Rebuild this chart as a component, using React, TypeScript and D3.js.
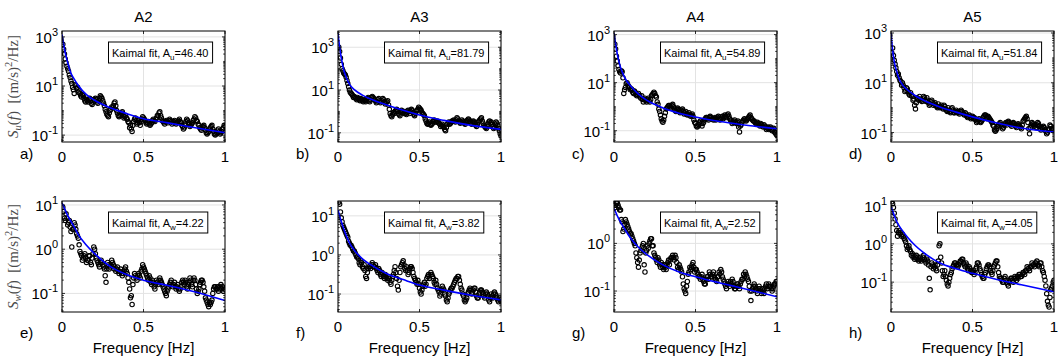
import React from "react";
import * as d3 from "d3";

// Frequency bins [Hz]
const FREQ_HZ = [
  0.005, 0.01, 0.015, 0.02, 0.025, 0.03, 0.035, 0.04, 0.045, 0.05,
  0.055, 0.06, 0.065, 0.07, 0.075, 0.08, 0.085, 0.09, 0.095, 0.1,
  0.105, 0.11, 0.115, 0.12, 0.125, 0.13, 0.135, 0.14, 0.145, 0.15,
  0.155, 0.16, 0.165, 0.17, 0.175, 0.18, 0.185, 0.19, 0.195, 0.2,
  0.205, 0.21, 0.215, 0.22, 0.225, 0.23, 0.235, 0.24, 0.245, 0.25,
  0.255, 0.26, 0.265, 0.27, 0.275, 0.28, 0.285, 0.29, 0.295, 0.3,
  0.305, 0.31, 0.315, 0.32, 0.325, 0.33, 0.335, 0.34, 0.345, 0.35,
  0.355, 0.36, 0.365, 0.37, 0.375, 0.38, 0.385, 0.39, 0.395, 0.4,
  0.405, 0.41, 0.415, 0.42, 0.425, 0.43, 0.435, 0.44, 0.445, 0.45,
  0.455, 0.46, 0.465, 0.47, 0.475, 0.48, 0.485, 0.49, 0.495, 0.5,
  0.505, 0.51, 0.515, 0.52, 0.525, 0.53, 0.535, 0.54, 0.545, 0.55,
  0.555, 0.56, 0.565, 0.57, 0.575, 0.58, 0.585, 0.59, 0.595, 0.6,
  0.605, 0.61, 0.615, 0.62, 0.625, 0.63, 0.635, 0.64, 0.645, 0.65,
  0.655, 0.66, 0.665, 0.67, 0.675, 0.68, 0.685, 0.69, 0.695, 0.7,
  0.705, 0.71, 0.715, 0.72, 0.725, 0.73, 0.735, 0.74, 0.745, 0.75,
  0.755, 0.76, 0.765, 0.77, 0.775, 0.78, 0.785, 0.79, 0.795, 0.8,
  0.805, 0.81, 0.815, 0.82, 0.825, 0.83, 0.835, 0.84, 0.845, 0.85,
  0.855, 0.86, 0.865, 0.87, 0.875, 0.88, 0.885, 0.89, 0.895, 0.9,
  0.905, 0.91, 0.915, 0.92, 0.925, 0.93, 0.935, 0.94, 0.945, 0.95,
  0.955, 0.96, 0.965, 0.97, 0.975, 0.98, 0.985, 0.99, 0.995, 1.0,
];

const TITLES = ["A2", "A3", "A4", "A5"];
const LETTERS_U = ["a)", "b)", "c)", "d)"];
const LETTERS_W = ["e)", "f)", "g)", "h)"];
const A_U = ["46.40", "81.79", "54.89", "51.84"];
const A_W = ["4.22", "3.82", "2.52", "4.05"];

// log10 of measured spectra S_u(f) [(m/s)^2/Hz]
const SU_A2 = [
  2.7, 2.5, 2.3, 2.1, 1.95, 1.8, 1.7, 1.6, 1.45, 1.35,
  1.2, 1.1, 0.95, 0.85, 0.7, 1.05, 1.0, 0.9, 0.95, 0.75,
  0.8, 0.7, 0.6, 0.55, 0.65, 0.6, 0.5, 0.4, 0.35, 0.45,
  0.4, 0.35, 0.45, 0.5, 0.4, 0.3, 0.25, 0.35, 0.45, 0.4,
  0.5, 0.45, 0.35, 0.3, 0.4, 0.5, 0.6, 0.55, 0.5, 0.4,
  0.3, 0.2, 0.05, -0.05, -0.15, -0.2, -0.25, -0.1, 0.0, 0.05,
  0.15, 0.1, 0.2, 0.3, 0.35, 0.2, 0.0, -0.1, -0.2, -0.25,
  -0.2, -0.15, -0.1, -0.05, -0.2, -0.3, -0.25, -0.2, -0.3, -0.35,
  -0.45, -0.5, -0.7, -0.6, -0.75, -0.85, -0.6, -0.45, -0.35, -0.3,
  -0.4, -0.55, -0.5, -0.4, -0.5, -0.6, -0.45, -0.35, -0.25, -0.3,
  -0.35, -0.4, -0.5, -0.55, -0.5, -0.45, -0.55, -0.6, -0.55, -0.5,
  -0.4, -0.35, -0.4, -0.45, -0.35, -0.3, -0.2, -0.2, -0.1, -0.05,
  -0.2, -0.3, -0.4, -0.45, -0.5, -0.55, -0.45, -0.4, -0.45, -0.5,
  -0.4, -0.35, -0.4, -0.45, -0.55, -0.5, -0.45, -0.4, -0.5, -0.55,
  -0.5, -0.45, -0.4, -0.35, -0.45, -0.5, -0.6, -0.65, -0.75, -0.7,
  -0.55, -0.45, -0.35, -0.4, -0.5, -0.55, -0.65, -0.6, -0.55, -0.5,
  -0.4, -0.35, -0.25, -0.3, -0.4, -0.45, -0.55, -0.6, -0.7, -0.75,
  -0.8, -0.7, -0.65, -0.6, -0.7, -0.8, -0.9, -0.95, -0.9, -0.85,
  -0.75, -0.7, -0.65, -0.6, -0.75, -0.85, -0.95, -1.0, -0.95, -0.9,
  -0.8, -0.75, -0.85, -0.95, -0.9, -0.85, -0.75, -0.7, -0.6, -0.65,
];
const SU_A3 = [
  3.0, 2.8, 2.5, 2.2, 2.0, 1.9, 1.8, 1.75, 1.7, 1.6,
  1.45, 1.3, 1.15, 1.0, 0.9, 0.85, 0.8, 0.75, 0.65, 0.7,
  0.65, 0.6, 0.55, 0.65, 0.6, 0.55, 0.5, 0.6, 0.55, 0.5,
  0.45, 0.55, 0.5, 0.45, 0.55, 0.6, 0.65, 0.5, 0.45, 0.55,
  0.65, 0.7, 0.65, 0.6, 0.55, 0.5, 0.4, 0.45, 0.55, 0.6,
  0.5, 0.4, 0.45, 0.5, 0.6, 0.55, 0.45, 0.35, 0.4, 0.45,
  0.5, 0.3, 0.1, -0.1, -0.2, -0.25, -0.15, -0.05, -0.1, 0.0,
  0.05, 0.1, 0.0, -0.1, -0.15, -0.2, -0.05, 0.05, 0.0, -0.05,
  -0.1, 0.0, -0.1, -0.15, -0.05, 0.05, 0.0, -0.1, 0.0, 0.1,
  0.05, -0.05, -0.15, -0.2, -0.1, 0.0, 0.05, 0.1, 0.2, 0.15,
  0.1, 0.05, -0.05, -0.1, -0.15, -0.2, -0.35, -0.45, -0.55, -0.6,
  -0.55, -0.5, -0.6, -0.65, -0.6, -0.55, -0.45, -0.4, -0.45, -0.5,
  -0.5, -0.45, -0.5, -0.55, -0.6, -0.7, -0.65, -0.6, -0.7, -0.75,
  -0.85, -0.9, -0.75, -0.6, -0.55, -0.5, -0.6, -0.55, -0.5, -0.45,
  -0.45, -0.4, -0.45, -0.5, -0.4, -0.3, -0.35, -0.45, -0.5, -0.55,
  -0.5, -0.4, -0.45, -0.5, -0.55, -0.6, -0.5, -0.45, -0.4, -0.35,
  -0.4, -0.5, -0.55, -0.6, -0.5, -0.45, -0.5, -0.55, -0.65, -0.7,
  -0.6, -0.5, -0.45, -0.4, -0.35, -0.3, -0.45, -0.55, -0.65, -0.7,
  -0.75, -0.8, -0.7, -0.6, -0.5, -0.45, -0.55, -0.5, -0.6, -0.7,
  -0.8, -0.75, -0.6, -0.5, -0.55, -0.65, -0.8, -0.9, -1.05, -1.15,
];
const SU_A4 = [
  2.6, 2.4, 2.1, 1.9, 1.7, 1.55, 1.45, 1.4, 1.5, 1.45,
  1.2, 0.55, 0.7, 0.8, 0.95, 1.0, 0.9, 0.85, 0.8, 0.7,
  0.75, 0.7, 0.6, 0.55, 0.65, 0.6, 0.5, 0.45, 0.5, 0.55,
  0.45, 0.4, 0.35, 0.45, 0.3, 0.2, 0.3, 0.35, 0.25, 0.2,
  0.3, 0.35, 0.25, 0.2, 0.3, 0.45, 0.5, 0.55, 0.6, 0.55,
  0.45, 0.4, 0.2, 0.1, -0.1, -0.2, -0.35, -0.5, -0.6, -0.65,
  -0.55, -0.4, -0.25, -0.1, -0.05, 0.0, 0.05, 0.05, 0.0, -0.05,
  0.05, 0.1, 0.0, -0.1, -0.15, -0.2, -0.1, -0.05, -0.1, -0.15,
  -0.25, -0.2, -0.15, -0.1, -0.2, -0.3, -0.25, -0.2, -0.3, -0.35,
  -0.3, -0.25, -0.35, -0.4, -0.35, -0.3, -0.4, -0.55, -0.65, -0.7,
  -0.8, -0.85, -0.8, -0.75, -0.65, -0.6, -0.7, -0.8, -0.7, -0.65,
  -0.55, -0.5, -0.45, -0.45, -0.5, -0.55, -0.45, -0.4, -0.45, -0.5,
  -0.5, -0.55, -0.5, -0.45, -0.55, -0.5, -0.45, -0.4, -0.5, -0.55,
  -0.5, -0.45, -0.4, -0.5, -0.45, -0.35, -0.4, -0.45, -0.35, -0.3,
  -0.4, -0.5, -0.55, -0.6, -0.7, -0.65, -0.6, -0.55, -0.65, -0.7,
  -0.65, -0.6, -0.85, -1.05, -0.8, -0.75, -0.65, -0.6, -0.55, -0.5,
  -0.55, -0.6, -0.55, -0.5, -0.45, -0.4, -0.35, -0.45, -0.5, -0.55,
  -0.6, -0.6, -0.65, -0.7, -0.7, -0.65, -0.7, -0.75, -0.8, -0.7,
  -0.75, -0.8, -0.85, -0.75, -0.8, -0.85, -0.95, -0.9, -0.85, -0.95,
  -0.9, -0.85, -0.95, -1.0, -0.95, -0.9, -1.05, -1.1, -1.15, -1.2,
];
const SU_A5 = [
  2.2, 2.4, 2.1, 1.9, 1.75, 1.6, 1.45, 1.3, 1.35, 1.2,
  1.1, 1.05, 0.9, 1.0, 0.9, 0.8, 0.65, 0.7, 0.8, 0.75,
  0.65, 0.55, 0.5, 0.6, 0.5, 0.45, 0.3, 0.35, 0.1, -0.05,
  0.2, 0.4, 0.35, 0.3, 0.45, 0.35, 0.3, 0.25, 0.35, 0.45,
  0.4, 0.3, 0.25, 0.4, 0.3, 0.2, 0.1, 0.15, 0.25, 0.3,
  0.2, 0.1, 0.15, 0.2, 0.1, 0.05, 0.0, 0.15, 0.05, 0.0,
  0.05, 0.1, 0.0, -0.05, 0.1, 0.05, -0.05, -0.1, -0.15, 0.0,
  -0.1, -0.15, -0.2, -0.05, 0.0, -0.1, -0.2, -0.2, -0.15, -0.1,
  -0.2, -0.15, -0.2, -0.25, -0.15, -0.1, -0.15, -0.2, -0.25, -0.3,
  -0.2, -0.25, -0.35, -0.4, -0.35, -0.3, -0.4, -0.45, -0.4, -0.35,
  -0.45, -0.4, -0.45, -0.5, -0.6, -0.55, -0.5, -0.45, -0.55, -0.6,
  -0.55, -0.5, -0.4, -0.35, -0.3, -0.3, -0.4, -0.45, -0.35, -0.4,
  -0.45, -0.5, -0.55, -0.6, -0.7, -0.75, -0.9, -0.95, -0.9, -0.85,
  -0.75, -0.7, -0.65, -0.6, -0.7, -0.75, -0.85, -0.8, -0.7, -0.65,
  -0.6, -0.7, -0.6, -0.55, -0.6, -0.65, -0.7, -0.75, -0.65, -0.6,
  -0.65, -0.7, -0.75, -0.8, -0.7, -0.65, -0.7, -0.75, -0.8, -0.85,
  -0.7, -0.55, -0.5, -0.45, -0.4, -0.35, -0.45, -0.6, -0.85, -1.05,
  -0.8, -0.7, -0.6, -0.65, -0.7, -0.75, -0.7, -0.8, -0.7, -0.6,
  -0.65, -0.75, -0.85, -0.9, -0.8, -0.85, -0.75, -0.8, -0.9, -0.95,
  -1.05, -1.0, -0.9, -0.85, -0.7, -0.75, -0.85, -0.9, -0.85, -0.8,
];

// log10 of measured spectra S_w(f) [(m/s)^2/Hz]
const SW_A2 = [
  0.95, 0.85, 0.7, 0.65, 0.8, 0.7, 0.55, 0.6, 0.65, 0.5,
  0.4, 0.05, 0.45, 0.45, 0.6, 0.55, 0.45, 0.35, 0.3, 0.25,
  0.1, -0.05, -0.1, -0.15, -0.25, -0.2, -0.15, -0.1, -0.2, -0.3,
  -0.25, -0.25, -0.15, -0.15, -0.3, -0.35, -0.2, -0.1, 0.05, 0.0,
  -0.1, -0.2, -0.25, -0.3, -0.35, -0.4, -0.3, -0.25, -0.3, -0.35,
  -0.4, -0.45, -0.6, -0.75, -0.45, -0.3, -0.35, -0.45, -0.4, -0.35,
  -0.25, -0.3, -0.35, -0.45, -0.4, -0.5, -0.45, -0.4, -0.5, -0.55,
  -0.5, -0.45, -0.55, -0.6, -0.55, -0.5, -0.45, -0.4, -0.5, -0.55,
  -0.65, -0.75, -0.9, -1.1, -1.05, -1.25, -0.8, -0.65, -0.55, -0.6,
  -0.65, -0.7, -0.6, -0.55, -0.6, -0.65, -0.5, -0.45, -0.35, -0.4,
  -0.45, -0.5, -0.55, -0.6, -0.65, -0.7, -0.6, -0.65, -0.75, -0.8,
  -0.7, -0.75, -0.85, -0.9, -0.8, -0.7, -0.75, -0.8, -0.7, -0.65,
  -0.7, -0.75, -0.8, -0.85, -0.9, -0.95, -1.0, -1.05, -0.95, -0.9,
  -0.85, -0.8, -0.75, -0.7, -0.8, -0.85, -0.8, -0.75, -0.85, -0.9,
  -0.85, -0.8, -0.9, -0.95, -0.9, -0.85, -0.75, -0.7, -0.75, -0.8,
  -0.7, -0.75, -0.85, -0.9, -0.8, -0.75, -0.65, -0.7, -0.8, -0.85,
  -0.7, -0.65, -0.7, -0.8, -0.9, -1.0, -0.95, -0.9, -0.8, -0.75,
  -0.7, -0.7, -0.75, -0.85, -0.95, -1.1, -1.15, -1.2, -1.25, -1.3,
  -1.2, -1.25, -1.2, -1.15, -1.0, -0.9, -0.85, -0.85, -0.9, -0.9,
  -0.85, -0.95, -0.9, -0.85, -0.8, -0.9, -0.85, -0.95, -0.9, -0.9,
];
const SW_A3 = [
  1.35, 1.3, 1.1, 0.95, 0.85, 0.75, 0.7, 0.65, 0.6, 0.55,
  0.5, 0.45, 0.35, 0.3, 0.25, 0.25, 0.2, 0.15, 0.1, 0.1,
  0.05, 0.0, -0.05, -0.05, -0.1, -0.2, -0.25, -0.15, -0.2, -0.3,
  -0.35, -0.25, -0.4, -0.55, -0.6, -0.45, -0.35, -0.3, -0.3, -0.35,
  -0.25, -0.2, -0.25, -0.3, -0.3, -0.25, -0.35, -0.4, -0.45, -0.35,
  -0.4, -0.5, -0.55, -0.45, -0.5, -0.55, -0.6, -0.5, -0.55, -0.6,
  -0.65, -0.55, -0.6, -0.7, -0.75, -0.65, -0.55, -0.5, -0.4, -0.3,
  -0.45, -0.6, -0.8, -0.9, -0.65, -0.45, -0.3, -0.25, -0.2, -0.15,
  -0.25, -0.35, -0.4, -0.3, -0.4, -0.5, -0.45, -0.35, -0.3, -0.3,
  -0.35, -0.45, -0.55, -0.6, -0.65, -0.7, -0.75, -0.65, -0.75, -0.85,
  -0.95, -1.0, -0.9, -0.8, -0.75, -0.7, -0.8, -0.75, -0.6, -0.55,
  -0.5, -0.6, -0.5, -0.45, -0.5, -0.55, -0.6, -0.7, -0.75, -0.65,
  -0.75, -0.85, -0.9, -0.95, -1.05, -1.0, -0.9, -0.8, -0.85, -0.9,
  -1.0, -1.05, -1.15, -1.2, -1.1, -1.0, -0.95, -0.9, -0.85, -0.85,
  -0.8, -0.75, -0.7, -0.65, -0.6, -0.6, -0.55, -0.55, -0.65, -0.75,
  -0.85, -0.9, -1.0, -1.05, -1.15, -1.2, -1.15, -1.1, -1.0, -0.95,
  -0.9, -0.85, -0.9, -1.0, -0.95, -0.9, -0.85, -0.85, -0.95, -1.05,
  -1.1, -1.1, -1.0, -0.95, -0.9, -0.9, -0.95, -1.0, -1.05, -1.1,
  -1.0, -0.95, -1.0, -1.05, -1.15, -1.2, -1.1, -1.0, -1.05, -1.1,
  -1.0, -0.95, -1.0, -1.05, -1.1, -1.15, -1.2, -1.1, -1.15, -1.2,
];
const SW_A4 = [
  0.75, 0.8, 0.85, 0.85, 0.8, 0.75, 0.7, 0.7, 0.5, 0.45,
  0.25, 0.3, 0.4, 0.5, 0.45, 0.4, 0.35, 0.3, 0.25, 0.2,
  0.2, 0.15, 0.1, 0.05, 0.0, -0.05, -0.2, -0.3, -0.4, -0.5,
  -0.35, -0.2, -0.15, -0.1, -0.05, 0.0, -0.45, -0.6, -0.2, -0.15,
  -0.05, -0.1, 0.0, 0.05, 0.1, 0.1, -0.05, -0.05, -0.2, -0.25,
  -0.3, -0.35, -0.4, -0.3, -0.35, -0.45, -0.5, -0.4, -0.45, -0.5,
  -0.55, -0.45, -0.5, -0.55, -0.45, -0.4, -0.35, -0.45, -0.35, -0.3,
  -0.3, -0.25, -0.3, -0.35, -0.25, -0.3, -0.4, -0.5, -0.55, -0.45,
  -0.5, -0.55, -0.6, -0.7, -0.85, -0.95, -1.0, -1.05, -0.9, -0.8,
  -0.65, -0.6, -0.5, -0.55, -0.5, -0.45, -0.4, -0.5, -0.6, -0.55,
  -0.55, -0.6, -0.65, -0.7, -0.7, -0.75, -0.7, -0.65, -0.75, -0.8,
  -0.85, -0.85, -0.75, -0.7, -0.7, -0.75, -0.6, -0.65, -0.7, -0.7,
  -0.65, -0.6, -0.7, -0.75, -0.75, -0.8, -0.7, -0.7, -0.6, -0.65,
  -0.55, -0.6, -0.7, -0.75, -0.8, -0.85, -0.9, -0.95, -0.85, -0.8,
  -0.85, -0.9, -0.8, -0.85, -0.75, -0.8, -0.9, -0.95, -0.95, -0.9,
  -0.85, -0.85, -0.9, -0.95, -0.85, -0.8, -0.75, -0.75, -0.65, -0.7,
  -0.6, -0.65, -0.7, -0.75, -0.8, -0.9, -1.0, -1.2, -1.0, -0.95,
  -0.9, -0.85, -0.9, -0.95, -1.0, -1.05, -0.95, -0.9, -0.95, -1.0,
  -1.05, -0.95, -1.0, -1.05, -0.95, -0.9, -0.85, -0.95, -0.9, -0.85,
  -0.9, -0.9, -0.95, -1.0, -0.95, -0.9, -0.85, -0.85, -0.8, -0.8,
];
const SW_A5 = [
  1.1, 1.05, 0.95, 0.8, 0.65, 0.5, 0.35, 0.2, 0.3, 0.35,
  0.25, 0.3, 0.2, 0.25, 0.2, 0.15, 0.1, 0.05, -0.05, -0.15,
  -0.1, -0.05, -0.15, -0.2, -0.3, -0.25, -0.35, -0.3, -0.4, -0.35,
  -0.3, -0.4, -0.35, -0.45, -0.4, -0.35, -0.45, -0.4, -0.35, -0.3,
  -0.4, -0.45, -0.5, -0.4, -0.45, -0.55, -0.9, -1.2, -0.6, -0.5,
  -0.55, -0.65, -0.6, -0.55, -0.65, -0.7, -0.55, -0.45, -0.05, 0.0,
  -0.35, -0.5, -0.7, -0.85, -0.8, -0.7, -0.85, -0.95, -1.05, -1.1,
  -1.0, -0.9, -0.8, -0.75, -0.65, -0.6, -0.55, -0.5, -0.5, -0.55,
  -0.55, -0.6, -0.55, -0.5, -0.45, -0.45, -0.4, -0.4, -0.5, -0.55,
  -0.6, -0.5, -0.55, -0.65, -0.7, -0.6, -0.65, -0.7, -0.75, -0.75,
  -0.7, -0.8, -0.75, -0.65, -0.6, -0.5, -0.5, -0.55, -0.65, -0.7,
  -0.8, -0.85, -0.9, -0.9, -0.8, -0.75, -0.65, -0.6, -0.55, -0.55,
  -0.6, -0.7, -0.75, -0.8, -0.7, -0.6, -0.55, -0.5, -0.45, -0.45,
  -0.6, -0.75, -0.85, -0.9, -0.9, -0.95, -1.0, -1.0, -0.9, -0.85,
  -0.95, -1.0, -1.05, -1.1, -1.0, -0.95, -0.9, -0.9, -0.95, -1.0,
  -0.9, -0.85, -0.9, -0.95, -0.85, -0.9, -0.8, -0.8, -0.85, -0.85,
  -0.8, -0.75, -0.75, -0.8, -0.7, -0.7, -0.6, -0.65, -0.65, -0.7,
  -0.6, -0.6, -0.5, -0.55, -0.55, -0.6, -0.5, -0.5, -0.45, -0.55,
  -0.55, -0.6, -0.5, -0.5, -0.6, -0.7, -0.75, -0.85, -0.95, -1.1,
  -1.3, -1.5, -1.6, -1.65, -1.4, -1.2, -1.15, -1.1, -1.0, -0.95,
];

// Kaimal fit curves, log10 values read at these frequencies
const FIT_F = [0, 0.01, 0.02, 0.035, 0.05, 0.075, 0.1, 0.15, 0.2, 0.3, 0.4, 0.5, 0.65, 0.8, 1.0];
const FIT_U_A2 = [3.1, 2.7, 2.35, 1.95, 1.6, 1.28, 1.02, 0.65, 0.42, 0.1, -0.13, -0.33, -0.5, -0.68, -0.9];
const FIT_U_A3 = [3.66, 3.0, 2.5, 1.95, 1.6, 1.22, 1.02, 0.76, 0.58, 0.3, 0.05, -0.17, -0.42, -0.63, -0.84];
const FIT_U_A4 = [3.06, 2.6, 2.2, 1.75, 1.45, 1.1, 0.88, 0.52, 0.27, -0.05, -0.27, -0.43, -0.62, -0.76, -0.92];
const FIT_U_A5 = [3.0, 2.3, 1.85, 1.45, 1.15, 0.88, 0.72, 0.48, 0.3, 0.03, -0.18, -0.37, -0.62, -0.82, -0.98];
const FIT_W_A2 = [1.04, 0.97, 0.88, 0.76, 0.66, 0.5, 0.33, 0.09, -0.1, -0.4, -0.58, -0.7, -0.82, -0.95, -1.16];
const FIT_W_A3 = [1.15, 1.0, 0.86, 0.67, 0.5, 0.27, 0.12, -0.1, -0.25, -0.48, -0.63, -0.77, -0.9, -1.02, -1.15];
const FIT_W_A4 = [0.73, 0.66, 0.58, 0.48, 0.39, 0.25, 0.12, -0.08, -0.23, -0.45, -0.6, -0.7, -0.83, -0.95, -1.12];
const FIT_W_A5 = [0.97, 0.86, 0.74, 0.58, 0.47, 0.32, 0.18, -0.05, -0.23, -0.5, -0.65, -0.77, -0.93, -1.07, -1.25];

const X_TICKS = [0, 0.5, 1];
const X_TICK_LABELS = ["0", "0.5", "1"];
const Y_TICK_EXP_U = [-1, 1, 3];
const Y_TICK_EXP_W = [-1, 0, 1];

const SU = [SU_A2, SU_A3, SU_A4, SU_A5];
const SW = [SW_A2, SW_A3, SW_A4, SW_A5];
const FIT_U = [FIT_U_A2, FIT_U_A3, FIT_U_A4, FIT_U_A5];
const FIT_W = [FIT_W_A2, FIT_W_A3, FIT_W_A4, FIT_W_A5];

// layout
const W = 1063;
const H = 360;
const COL_LEFT = [62, 338, 614, 891];
const PW = 163;
const ROW_TOP = [31, 201];
const PH = 111;
const DOM_U: [number, number][] = [[-1.28, 3.24], [-1.43, 3.76], [-1.47, 3.15], [-1.38, 3.08]];
const DOM_W: [number, number][] = [[-1.42, 1.09], [-1.46, 1.38], [-1.44, 0.89], [-1.78, 1.12]];

const SANS = "'Liberation Sans', Arial, Helvetica, sans-serif";
const SERIF = "'Liberation Serif', 'Times New Roman', serif";

function measure(text: string, size: number) {
  if (typeof document === "undefined") return text.length * size * 0.5;
  const c = document.createElement("canvas").getContext("2d");
  if (!c) return text.length * size * 0.5;
  c.font = `${size}px 'Liberation Sans', Arial`;
  return c.measureText(text).width;
}

type PanelProps = {
  x0: number; y0: number; dom: [number, number]; vals: number[]; fit: number[];
  tickExps: number[]; title?: string; letter: string; comp: string; amp: string;
  ylabel: boolean; xlabel: boolean; id: string; bottomRow: boolean;
};

function Panel(p: PanelProps) {
  const { x0, y0, dom } = p;
  const x = d3.scaleLinear().domain([0, 1]).range([x0, x0 + PW]);
  const y = d3.scaleLog().domain([10 ** dom[0], 10 ** dom[1]]).range([y0 + PH, y0]);
  const line = d3
    .line<number>()
    .x((_, i) => x(FIT_F[i]))
    .y((v) => y(10 ** v))
    .curve(d3.curveMonotoneX);
  const ticks = p.tickExps.filter((e) => e >= dom[0] - 1e-6 && e <= dom[1] + 1e-6);
  const minor: number[] = [];
  for (let d = Math.floor(dom[0]); d <= Math.ceil(dom[1]); d++) {
    for (let k = 1; k <= 9; k++) {
      const v = k * 10 ** d;
      const e = Math.log10(v);
      if (e > dom[0] && e < dom[1] && !ticks.includes(Math.round(e * 1000) / 1000)) minor.push(v);
    }
  }
  const txt1 = "Kaimal fit, A";
  const txt2 = p.comp;
  const txt3 = "=" + p.amp;
  const tw = measure(txt1, 11) + measure(txt2, 8) + measure(txt3, 11);
  const bx = x0 + 46.5;
  const by = y0 + 11;
  const bw = tw + 7;
  const bh = 21;
  const yb = y0 + PH;
  return (
    <g>
      <defs>
        <clipPath id={p.id}>
          <rect x={x0} y={y0} width={PW} height={PH} />
        </clipPath>
      </defs>
      <rect x={x0} y={y0} width={PW} height={PH} fill="#fff" />
      <g stroke="#e3e3e3" strokeWidth={1}>
        {X_TICKS.map((t) => (
          <line key={"gx" + t} x1={x(t)} x2={x(t)} y1={y0} y2={yb} />
        ))}
        {ticks.map((e) => (
          <line key={"gy" + e} x1={x0} x2={x0 + PW} y1={y(10 ** e)} y2={y(10 ** e)} />
        ))}
      </g>
      <g clipPath={`url(#${p.id})`}>
        {p.vals.map((v, i) => (
          <circle key={i} cx={x(FREQ_HZ[i])} cy={y(10 ** v)} r={2.2} fill="none" stroke="#000" strokeWidth={1.1} />
        ))}
        <path d={line(p.fit) || ""} fill="none" stroke="#0000ff" strokeWidth={1.6} />
      </g>
      <g stroke="#000" strokeWidth={0.8}>
        {X_TICKS.map((t) => (
          <g key={"tx" + t}>
            <line x1={x(t)} x2={x(t)} y1={yb} y2={yb - 3} />
            <line x1={x(t)} x2={x(t)} y1={y0} y2={y0 + 3} />
          </g>
        ))}
        {ticks.map((e) => (
          <g key={"ty" + e}>
            <line x1={x0} x2={x0 + 3} y1={y(10 ** e)} y2={y(10 ** e)} />
            <line x1={x0 + PW} x2={x0 + PW - 3} y1={y(10 ** e)} y2={y(10 ** e)} />
          </g>
        ))}
        {minor.map((v, i) => (
          <g key={"m" + i}>
            <line x1={x0} x2={x0 + 1.8} y1={y(v)} y2={y(v)} />
            <line x1={x0 + PW} x2={x0 + PW - 1.8} y1={y(v)} y2={y(v)} />
          </g>
        ))}
      </g>
      <rect x={x0} y={y0} width={PW} height={PH} fill="none" stroke="#000" strokeWidth={1} />
      <rect x={bx} y={by} width={bw} height={bh} fill="#fff" stroke="#000" strokeWidth={1} />
      <text x={bx + 3.5} y={by + 14.5} fontFamily={SANS} fontSize={11} fill="#000">
        {txt1}
        <tspan fontSize={8} dy={3}>{txt2}</tspan>
        <tspan dy={-3}>{txt3}</tspan>
      </text>
      {X_TICKS.map((t, i) => (
        <text key={"lx" + t} x={x(t)} y={yb + 20} textAnchor="middle" fontFamily={SANS} fontSize={15} fill="#000">
          {X_TICK_LABELS[i]}
        </text>
      ))}
      {ticks.map((e) => (
        <text key={"ly" + e} x={x0 - 4} y={y(10 ** e) + 6} textAnchor="end" fontFamily={SANS} fontSize={15} fill="#000">
          10
          <tspan fontSize={11} dy={-7}>{String(e)}</tspan>
        </text>
      ))}
      <text x={x0 - 42} y={p.bottomRow ? yb + 26 : yb + 17} fontFamily={SANS} fontSize={15} fill="#000">
        {p.letter}
      </text>
      {p.title && (
        <text x={x0 + PW / 2} y={22} textAnchor="middle" fontFamily={SANS} fontSize={15} fill="#000">
          {p.title}
        </text>
      )}
      {p.xlabel && (
        <text x={x0 + PW / 2} y={yb + 41} textAnchor="middle" fontFamily={SANS} fontSize={15} fill="#000">
          Frequency [Hz]
        </text>
      )}
      {p.ylabel && (
        <text
          transform={`translate(${18},${y0 + PH / 2}) rotate(-90)`}
          textAnchor="middle"
          fontFamily={SERIF}
          fontSize={15}
          fill="#4a4a4a"
        >
          <tspan fontStyle="italic">S</tspan>
          <tspan fontStyle="italic" fontSize={10.5} dy={3}>{p.comp}</tspan>
          <tspan dy={-3}>(</tspan>
          <tspan fontStyle="italic">f</tspan>
          <tspan>{")\u2002[(m/s)"}</tspan>
          <tspan fontSize={10.5} dy={-6}>2</tspan>
          <tspan dy={6}>/Hz]</tspan>
        </text>
      )}
    </g>
  );
}

export default function App() {
  return (
    <svg
      width={W}
      height={H}
      viewBox={`0 0 ${W} ${H}`}
      style={{ position: "absolute", left: 0, top: 0, background: "#fff", display: "block" }}
    >
      <rect x={0} y={0} width={W} height={H} fill="#fff" />
      {COL_LEFT.map((cx, i) => (
        <Panel
          key={"u" + i}
          id={"clipu" + i}
          x0={cx}
          y0={ROW_TOP[0]}
          dom={DOM_U[i]}
          vals={SU[i]}
          fit={FIT_U[i]}
          tickExps={Y_TICK_EXP_U}
          title={TITLES[i]}
          letter={LETTERS_U[i]}
          comp="u"
          amp={A_U[i]}
          ylabel={i === 0}
          xlabel={false}
          bottomRow={false}
        />
      ))}
      {COL_LEFT.map((cx, i) => (
        <Panel
          key={"w" + i}
          id={"clipw" + i}
          x0={cx}
          y0={ROW_TOP[1]}
          dom={DOM_W[i]}
          vals={SW[i]}
          fit={FIT_W[i]}
          tickExps={Y_TICK_EXP_W}
          letter={LETTERS_W[i]}
          comp="w"
          amp={A_W[i]}
          ylabel={i === 0}
          xlabel={true}
          bottomRow={true}
        />
      ))}
    </svg>
  );
}
